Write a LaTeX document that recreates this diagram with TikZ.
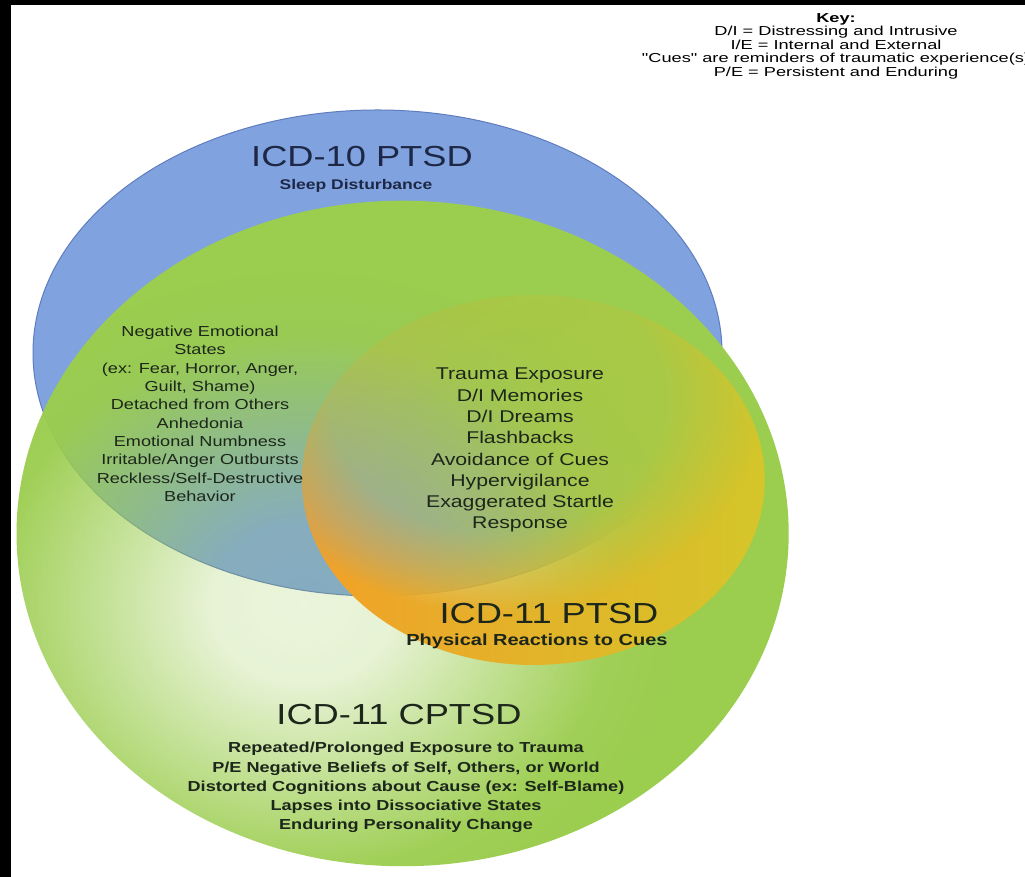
\documentclass[tikz,border=0pt]{standalone}
\usepackage{fontspec}
\setmainfont[FakeStretch=1.25]{Liberation Sans}
\newfontfamily\keyfont[FakeStretch=1.4]{Liberation Sans}
\usetikzlibrary{fadings}

\definecolor{tenblue}{RGB}{128,163,224}
\definecolor{tenedge}{RGB}{95,125,190}
\definecolor{cptsdgreen}{RGB}{155,205,78}
\definecolor{ptsdorange}{RGB}{242,160,40}
\definecolor{ptsdyellow}{RGB}{212,198,42}
\definecolor{darkink}{RGB}{28,38,26}
\definecolor{navyink}{RGB}{30,40,70}

% rims opaque, middles see-through
\pgfdeclareradialshading{greenglow}{\pgfpointorigin}{color(0bp)=(black!80); color(6bp)=(black!76); color(20bp)=(black!5); color(25bp)=(black!0); color(50bp)=(black!0)}
\pgfdeclarefading{greenfade}{\pgfuseshading{greenglow}}
\pgfdeclareradialshading{orangeglow}{\pgfpointorigin}{color(0bp)=(black!88); color(18bp)=(black!80); color(25bp)=(black!30); color(29bp)=(black!0); color(50bp)=(black!0)}
\pgfdeclarefading{orangefade}{\pgfuseshading{orangeglow}}

\tikzset{
  title/.style={font=\fontsize{29}{34}\selectfont, inner sep=0pt},
  subtitle/.style={anchor=base, inner sep=0pt},
  listtext/.style={align=center, anchor=north, inner sep=0pt, text=darkink},
}

\begin{document}
\begin{tikzpicture}[x=1pt,y=1pt]
  \useasboundingbox (0,0) rectangle (1025,877);
  \fill[white] (0,0) rectangle (1025,877);
  \fill[black] (0,0) rectangle (11,877);
  \fill[black] (0,872) rectangle (1025,877);

  % ICD-10
  \draw[tenedge, line width=1pt, fill=tenblue] (377.5,524) ellipse [x radius=344.5, y radius=243];
  % ICD-11 CPTSD
  \fill[cptsdgreen, path fading=greenfade, fading transform={shift={(-6.5bp,-5.3bp)}}]
    (403.5,344) ellipse [x radius=386.5, y radius=333];
  % ICD-11 PTSD
  \shade[left color=ptsdorange, right color=ptsdyellow, path fading=orangefade, fading transform={shift={(-4bp,11bp)}}]
    (533.5,397) ellipse [x radius=231.5, y radius=185];

  \node[title, text=navyink] (tenhead) at (362,720) {ICD-10 PTSD};
  \node[subtitle, text=navyink, font=\bfseries\fontsize{14}{16}\selectfont] (tensub) at (356,687) {Sleep Disturbance};

  \node[listtext, font=\fontsize{14.5}{18.3}\selectfont] (shared) at (200,551)
    {Negative Emotional\\States\\(ex: Fear, Horror, Anger,\\Guilt, Shame)\\Detached from Others\\Anhedonia\\Emotional Numbness\\Irritable/Anger Outbursts\\Reckless/Self-Destructive\\Behavior};
  \node[listtext, font=\fontsize{17}{21.3}\selectfont] (core) at (520,509)
    {Trauma Exposure\\D/I Memories\\D/I Dreams\\Flashbacks\\Avoidance of Cues\\Hypervigilance\\Exaggerated Startle\\Response};

  \node[title, text=darkink] (elevhead) at (549,263) {ICD-11 PTSD};
  \node[subtitle, text=darkink, font=\bfseries\fontsize{16}{18}\selectfont] (elevsub) at (537,231) {Physical Reactions to Cues};

  \node[title, text=darkink] (complexhead) at (399,162) {ICD-11 CPTSD};
  \node[listtext, font=\bfseries\fontsize{14.5}{19.3}\selectfont] (complex) at (406,135)
    {Repeated/Prolonged Exposure to Trauma\\P/E Negative Beliefs of Self, Others, or World\\Distorted Cognitions about Cause (ex: Self-Blame)\\Lapses into Dissociative States\\Enduring Personality Change};

  \node[listtext, text=black, font=\keyfont\fontsize{13}{13.5}\selectfont] (key) at (836,864)
    {\textbf{Key:}\\D/I = Distressing and Intrusive\\I/E = Internal and External\\"Cues" are reminders of traumatic experience(s)\\P/E = Persistent and Enduring};
\end{tikzpicture}
\end{document}
